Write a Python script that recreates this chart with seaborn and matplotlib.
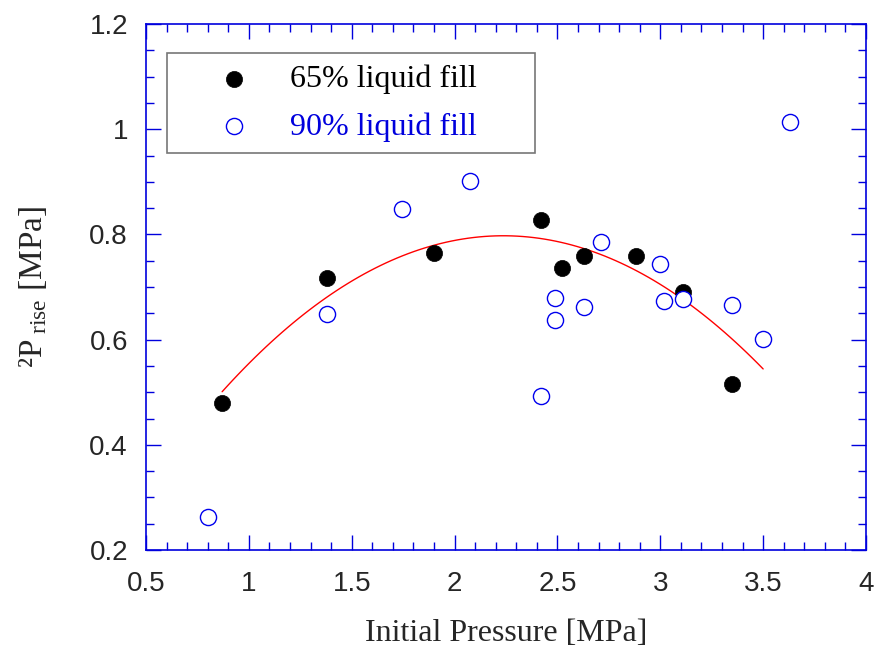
import numpy as np
import pandas as pd
import matplotlib
matplotlib.use("Agg")
import matplotlib.pyplot as plt
import seaborn as sns
from matplotlib.ticker import MultipleLocator, FuncFormatter

# 65% liquid fill
x65 = [0.87, 1.38, 1.90, 2.42, 2.52, 2.63, 2.88, 3.11, 3.35]
y65 = [0.479, 0.717, 0.765, 0.827, 0.736, 0.759, 0.759, 0.690, 0.516]
# 90% liquid fill
x90 = [0.80, 1.38, 1.745, 2.075, 2.42, 2.49, 2.49, 2.63, 2.71, 3.00, 3.02, 3.11, 3.35, 3.50, 3.63]
y90 = [0.263, 0.649, 0.848, 0.902, 0.493, 0.679, 0.637, 0.662, 0.786, 0.744, 0.673, 0.677, 0.666, 0.601, 1.014]
# quadratic fit curve: y = a*x^2 + b*x + c
fit_coef = [-0.1587, 0.710, 0.0033]
fit_range = [0.87, 3.50]

sns.set_style("white")
plt.rcParams["mathtext.fontset"] = "custom"
plt.rcParams["mathtext.rm"] = "Liberation Serif"
plt.rcParams["mathtext.it"] = "Liberation Serif:italic"

fig = plt.figure(figsize=(8.78, 6.51), dpi=100)
ax = fig.add_axes([146/878, 1-550/651, 720/878, 526/651])

df65 = pd.DataFrame({"x": x65, "y": y65})
df90 = pd.DataFrame({"x": x90, "y": y90})

xf = np.linspace(fit_range[0], fit_range[1], 100)
dff = pd.DataFrame({"x": xf, "y": np.polyval(fit_coef, xf)})
sns.lineplot(data=dff, x="x", y="y", ax=ax, color="#ff0000", lw=1.0, zorder=2)

sns.scatterplot(data=df65, x="x", y="y", ax=ax, s=135, color="black",
                edgecolor="black", linewidth=0.5, label="65% liquid fill", zorder=3)
sns.scatterplot(data=df90, x="x", y="y", ax=ax, s=135, facecolor="white",
                edgecolor="#0000ee", linewidth=1.0, label="90% liquid fill", zorder=4)

ax.set_xlim(0.5, 4)
ax.set_ylim(0.2, 1.2)
ax.xaxis.set_major_locator(MultipleLocator(0.5))
ax.xaxis.set_minor_locator(MultipleLocator(0.1))
ax.yaxis.set_major_locator(MultipleLocator(0.2))
ax.yaxis.set_minor_locator(MultipleLocator(0.05))
ax.xaxis.set_major_formatter(FuncFormatter(lambda v, p: f"{v:g}"))
ax.yaxis.set_major_formatter(FuncFormatter(lambda v, p: f"{v:g}"))

blue = "#0000dd"
for s in ax.spines.values():
    s.set_color(blue)
    s.set_linewidth(1.2)
    s.set_visible(True)
ax.tick_params(which="both", direction="in", top=True, right=True, bottom=True, left=True,
               color=blue, width=1.0)
ax.tick_params(which="major", length=11)
ax.tick_params(which="minor", length=6)
for lab in ax.get_xticklabels() + ax.get_yticklabels():
    lab.set_fontfamily("Liberation Sans")
    lab.set_fontsize(20)
ax.tick_params(axis="x", pad=15)
ax.tick_params(axis="y", pad=13)

ax.set_xlabel("Initial Pressure [MPa]", fontfamily="Liberation Serif", fontsize=23, labelpad=16)
ax.set_ylabel(r"²P$_{\rm\ rise}$ [MPa]", fontfamily="Liberation Serif", fontsize=24, labelpad=29)

leg = ax.legend(loc="upper left", bbox_to_anchor=(21/720, 1-29/526-0.2, 368/720, 0.2),
                mode="expand", frameon=True, fancybox=False, edgecolor="#555555",
                prop={"family": "Liberation Serif", "size": 23},
                handletextpad=0.0, borderpad=0.36, labelspacing=0.57, borderaxespad=0,
                markerscale=1.0, handlelength=3.5)
leg.get_frame().set_linewidth(1.2)
leg.get_texts()[0].set_color("black")
leg.get_texts()[1].set_color("#0000dd")

fig.savefig("out.png", dpi=100)
